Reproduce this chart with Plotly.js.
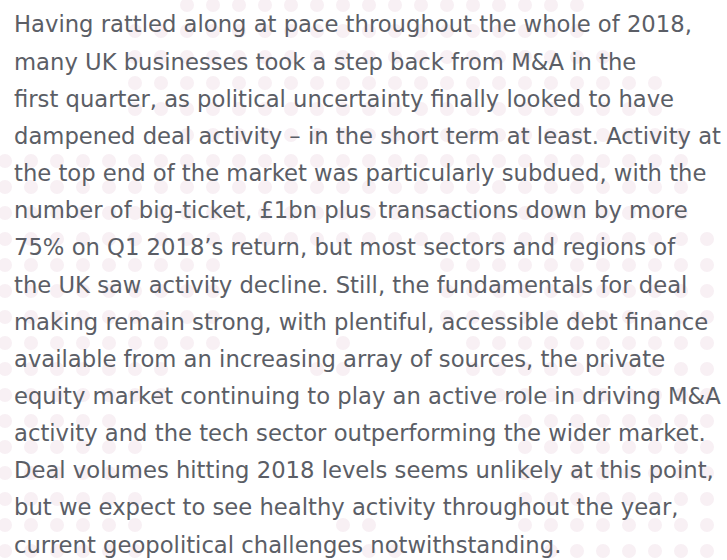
<!DOCTYPE html>
<html>
<head>
<meta charset="utf-8">
<script src="https://cdn.plot.ly/plotly-3.0.1.min.js"></script>
<style>
html,body{margin:0;padding:0;background:#ffffff;}
#chart{width:727px;height:560px;}
</style>
</head>
<body>
<div id="chart"></div>
<script>
// Paragraph lines (text content)
var textLines = [
  "Having rattled along at pace throughout the whole of 2018,",
  "many UK businesses took a step back from M&A in the",
  "first quarter, as political uncertainty finally looked to have",
  "dampened deal activity \u2013 in the short term at least. Activity at",
  "the top end of the market was particularly subdued, with the",
  "number of big-ticket, \u00a31bn plus transactions down by more",
  "75% on Q1 2018\u2019s return, but most sectors and regions of",
  "the UK saw activity decline. Still, the fundamentals for deal",
  "making remain strong, with plentiful, accessible debt finance",
  "available from an increasing array of sources, the private",
  "equity market continuing to play an active role in driving M&A",
  "activity and the tech sector outperforming the wider market.",
  "Deal volumes hitting 2018 levels seems unlikely at this point,",
  "but we expect to see healthy activity throughout the year,",
  "current geopolitical challenges notwithstanding."
];

// Background dot-map: for each grid row, the column spans that carry a dot
var dotRows = [0,1,2,3,4,5,6,7,8,9,10,11,12,13,14,15,16,17,18,19,20,21];
var dotSpans = [
  [[7,22]],
  [[5,22]],
  [[5,23]],
  [[5,25]],
  [[5,25]],
  [[7,26]],
  [[0,26]],
  [[0,26]],
  [[0,26]],
  [[0,27]],
  [[0,8],[17,27]],
  [[0,8],[17,27]],
  [[0,8],[17,27]],
  [[0,8],[13,13],[18,27]],
  [[0,6],[12,13],[18,27]],
  [[0,6],[19,27]],
  [[0,4],[20,27]],
  [[0,5],[20,27]],
  [[0,5],[20,27]],
  [[0,5],[20,27]],
  [[0,5],[13,14],[20,27]],
  [[0,5],[14,15],[21,27]]
];

var dx = [], dy = [];
dotRows.forEach(function(r, i){
  dotSpans[i].forEach(function(s){
    for (var c = s[0]; c <= s[1]; c++) { dx.push(c); dy.push(r); }
  });
});

var W = 727, H = 560, cell = 26, off = 5;
var trace = {
  type: 'scatter', mode: 'markers', x: dx, y: dy,
  marker: {size: 14, color: '#f8f0f4', line: {width: 0}},
  hoverinfo: 'skip', showlegend: false
};

var lineTop = 24.5, lineStep = 37.15, textLeft = 12;
var annotations = textLines.map(function(t, i){
  return {
    text: t, xref: 'paper', yref: 'paper',
    x: textLeft / W, y: 1 - (lineTop + i * lineStep) / H,
    xanchor: 'left', yanchor: 'middle', showarrow: false,
    align: 'left',
    font: {family: '"DejaVu Sans", sans-serif', size: 22.7, color: '#5b5e66'}
  };
});

var layout = {
  width: W, height: H,
  margin: {l: 0, r: 0, t: 0, b: 0, pad: 0},
  paper_bgcolor: '#ffffff', plot_bgcolor: '#ffffff',
  xaxis: {range: [-off / cell, (W - off) / cell], visible: false, fixedrange: true},
  yaxis: {range: [(H - off) / cell, -off / cell], visible: false, fixedrange: true},
  annotations: annotations,
  showlegend: false
};

Plotly.newPlot('chart', [trace], layout, {displayModeBar: false, staticPlot: true});
</script>
</body>
</html>
